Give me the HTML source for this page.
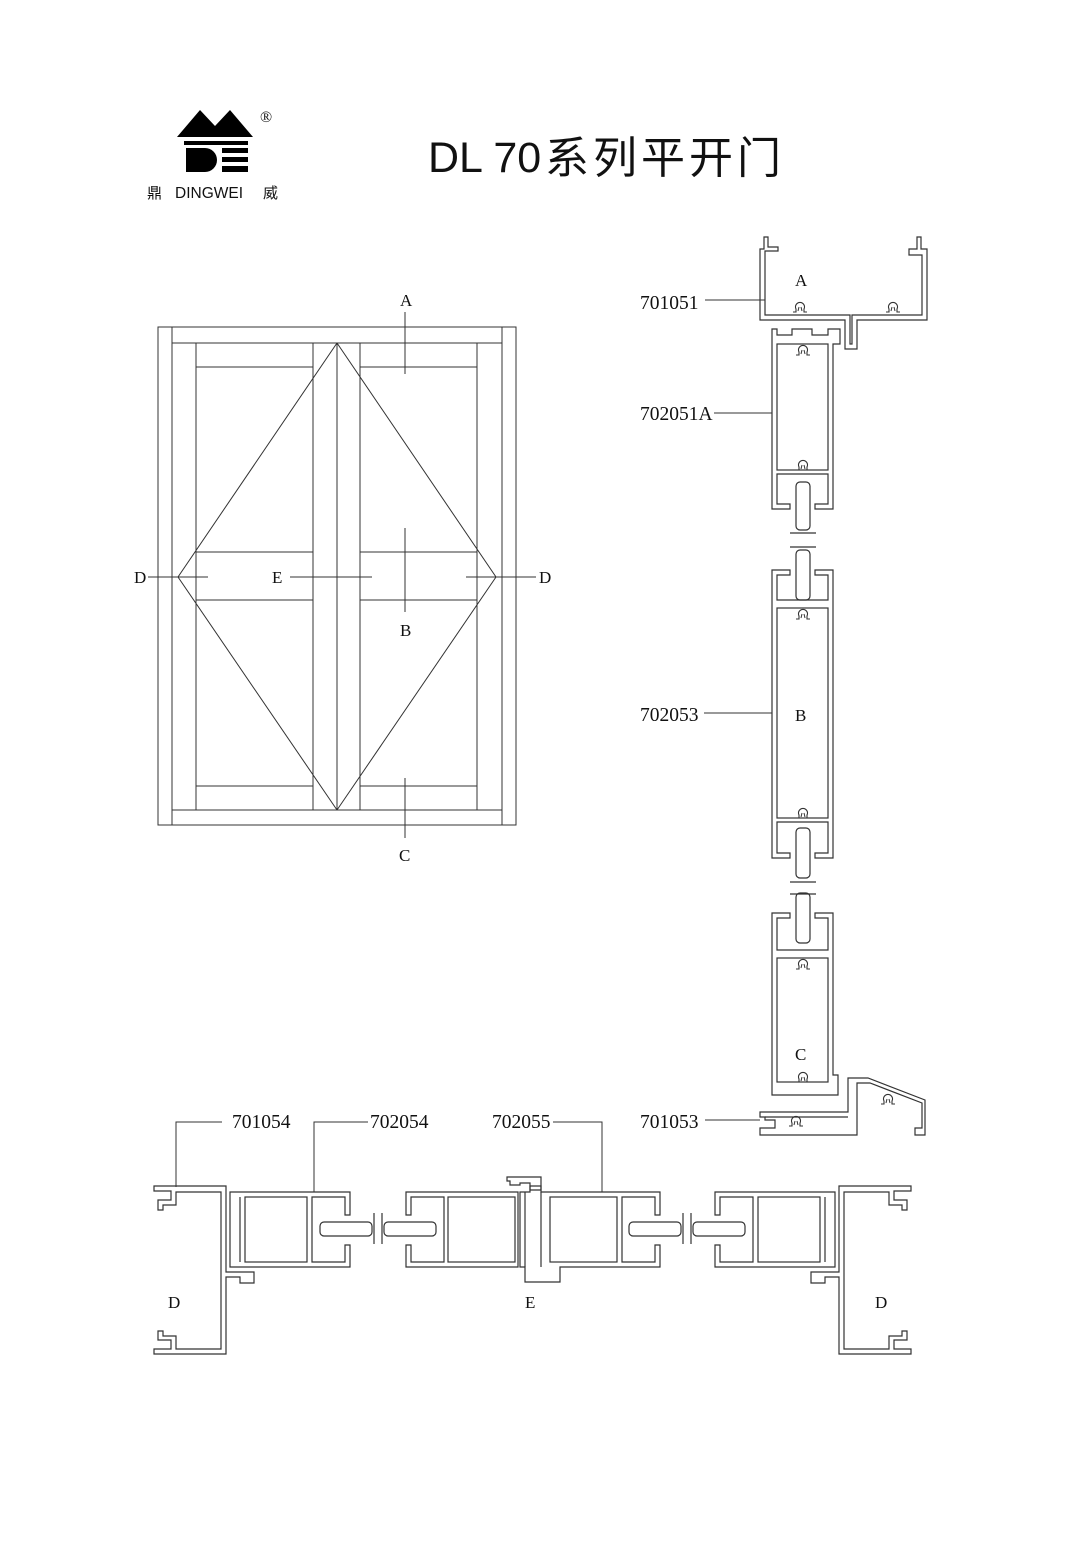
<!DOCTYPE html>
<html><head><meta charset="utf-8"><style>
html,body{margin:0;padding:0;background:#fff;}
svg{display:block;}
text{font-family:"Liberation Serif","Noto Serif CJK SC",serif;font-size:17px;fill:#111;}
.n{font-size:19.5px;}
.s{fill:none;stroke:#333;stroke-width:1.2;}
.t{fill:none;stroke:#333;stroke-width:1;}
</style></head><body>
<svg width="1090" height="1542" viewBox="0 0 1090 1542" xmlns="http://www.w3.org/2000/svg">
<defs>
<symbol id="clip" viewBox="-8 -8 16 16" width="16" height="16" overflow="visible">
<path d="M-7,4 H-4 V1 A4.5,4.5 0 1 1 4,1 V4 H7" fill="none" stroke="#333" stroke-width="1.1"/>
<path d="M-1,-1 L-2,3 M1,-1 L2,3" fill="none" stroke="#333" stroke-width="1"/>
</symbol>
</defs>
<polygon points="177,137 200,110 215,126 230,110 253,137" fill="#000"/>
<rect x="184" y="141" width="64" height="4" fill="#000"/>
<path d="M186,148 H205 A12,12 0 0 1 205,172 H186 Z" fill="#000"/>
<rect x="222" y="148" width="26" height="5" fill="#000"/>
<rect x="222" y="157" width="26" height="5" fill="#000"/>
<rect x="222" y="166" width="26" height="6" fill="#000"/>
<text x="260" y="122" style="font-size:16px">®</text>
<text x="147" y="198" style="font-family:'Liberation Sans','Noto Sans CJK SC',sans-serif;font-size:15px">鼎</text>
<text x="175" y="198" style="font-family:'Liberation Sans',sans-serif;font-size:15.5px">DINGWEI</text>
<text x="263" y="198" style="font-family:'Liberation Sans','Noto Sans CJK SC',sans-serif;font-size:15px">威</text>
<text x="428" y="172" style="font-family:'Liberation Sans',sans-serif;font-size:43px">DL 70</text>
<text x="545" y="173" style="font-family:'Liberation Sans','Noto Sans CJK SC',sans-serif;font-size:44px;letter-spacing:4px">系列平开门</text>

<g class="t">
<rect x="158" y="327" width="358" height="498"/>
<line x1="172" y1="327" x2="172" y2="825"/><line x1="502" y1="327" x2="502" y2="825"/>
<line x1="172" y1="343" x2="502" y2="343"/><line x1="172" y1="810" x2="502" y2="810"/>
<line x1="196" y1="343" x2="196" y2="810"/><line x1="313" y1="343" x2="313" y2="810"/>
<line x1="337" y1="343" x2="337" y2="810"/><line x1="360" y1="343" x2="360" y2="810"/>
<line x1="477" y1="343" x2="477" y2="810"/>
<line x1="196" y1="367" x2="313" y2="367"/><line x1="360" y1="367" x2="477" y2="367"/>
<line x1="196" y1="786" x2="313" y2="786"/><line x1="360" y1="786" x2="477" y2="786"/>
<line x1="196" y1="552" x2="313" y2="552"/><line x1="360" y1="552" x2="477" y2="552"/>
<line x1="196" y1="600" x2="313" y2="600"/><line x1="360" y1="600" x2="477" y2="600"/>
<polyline points="337,343 178,577 337,810"/><polyline points="337,343 496,577 337,810"/>
<line x1="405" y1="312" x2="405" y2="374"/>
<line x1="405" y1="528" x2="405" y2="612"/>
<line x1="405" y1="778" x2="405" y2="838"/>
<line x1="148" y1="577" x2="208" y2="577"/>
<line x1="290" y1="577" x2="372" y2="577"/>
<line x1="466" y1="577" x2="536" y2="577"/>
</g>
<text x="400" y="306">A</text><text x="400" y="636">B</text><text x="399" y="861">C</text>
<text x="134" y="583">D</text><text x="272" y="583">E</text><text x="539" y="583">D</text>

<g class="s">
<path d="M764,237 H768 V247 H778 V251 H765 V315 H850 V344 H852 V315 H922 V255 H909 V249 H917 V237 H921 V249 H927 V320 H857 V349 H845 V320 H760 V249 H764 Z"/>
<path d="M772,329 H777 V335 H792 V329 H812 V335 H828 V329 H840 V344 H833 V509 H815 V504 H828 V474 H777 V504 H790 V509 H772 Z"/>
<rect x="777" y="344" width="51" height="126"/>
<rect x="796" y="482" width="14" height="48" rx="4"/>
<line x1="790" y1="533" x2="816" y2="533"/><line x1="790" y1="547" x2="816" y2="547"/>
<path d="M772,570 H790 V575 H777 V600 H828 V575 H815 V570 H833 V858 H815 V853 H828 V822 H777 V853 H790 V858 H772 Z"/>
<rect x="777" y="608" width="51" height="210"/>
<rect x="796" y="550" width="14" height="50" rx="4"/>
<rect x="796" y="828" width="14" height="50" rx="4"/>
<line x1="790" y1="882" x2="816" y2="882"/><line x1="790" y1="894" x2="816" y2="894"/>
<path d="M772,913 H790 V918 H777 V950 H828 V918 H815 V913 H833 V1075 H838 V1095 H772 Z"/>
<rect x="777" y="958" width="51" height="124"/>
<rect x="796" y="893" width="14" height="50" rx="4"/>
<path d="M760,1112 H848 V1078 H868 L925,1100 V1135 H915 V1128 H922 V1103 L870,1083 H857 V1135 H760 V1128 H775 V1120 H765 V1117 H760 Z"/>
<path d="M765,1117 H848"/>
</g>
<use href="#clip" x="792" y="300"/><use href="#clip" x="885" y="300"/>
<use href="#clip" x="795" y="343"/><use href="#clip" x="795" y="458"/>
<use href="#clip" x="795" y="607"/><use href="#clip" x="795" y="806"/>
<use href="#clip" x="795" y="957"/><use href="#clip" x="795" y="1070"/>
<use href="#clip" x="880" y="1092"/><use href="#clip" x="788" y="1114"/>
<g class="t">
<line x1="705" y1="300" x2="765" y2="300"/>
<line x1="714" y1="413" x2="772" y2="413"/>
<line x1="704" y1="713" x2="772" y2="713"/>
<line x1="705" y1="1120" x2="760" y2="1120"/>
</g>
<text class="n" x="640" y="309">701051</text><text class="n" x="640" y="420">702051A</text>
<text class="n" x="640" y="721">702053</text><text class="n" x="640" y="1128">701053</text>
<text x="795" y="286">A</text><text x="795" y="721">B</text><text x="795" y="1060">C</text>

<g id="half" class="s">
<path d="M154,1186 H226 V1272 H254 V1283 H240 V1277 H226 V1354 H154 V1349 H171 V1340 H158 V1331 H163 V1336 H176 V1349 H221 V1192 H176 V1205 H163 V1210 H158 V1200 H171 V1191 H154 Z"/>
<path d="M230,1192 H350 V1215 H345 V1197 H312 V1262 H345 V1245 H350 V1267 H230 Z"/>
<line x1="240" y1="1197" x2="240" y2="1262"/>
<rect x="245" y="1197" width="62" height="65"/>
<rect x="320" y="1222" width="52" height="14" rx="4"/>
<line x1="374" y1="1213" x2="374" y2="1244"/>
</g>
<use href="#half" transform="translate(1065,0) scale(-1,1)"/>
<g class="s">
<path d="M406,1192 H518 V1267 H406 V1245 H411 V1262 H444 V1197 H411 V1215 H406 Z"/>
<rect x="448" y="1197" width="67" height="65"/>
<rect x="384" y="1222" width="52" height="14" rx="4"/>
<line x1="382" y1="1213" x2="382" y2="1244"/>
<path d="M520,1192 H530 V1186 H541 V1192 H660 V1215 H655 V1197 H622 V1262 H655 V1245 H660 V1267 H560 V1282 H525 V1267 H520 Z"/>
<path d="M507,1177 H541 V1190 H530 V1183 H520 V1185 H510 V1181 H507 Z"/>
<rect x="550" y="1197" width="67" height="65"/>
<line x1="525" y1="1192" x2="525" y2="1267"/><line x1="541" y1="1192" x2="541" y2="1267"/>
<rect x="629" y="1222" width="52" height="14" rx="4"/>
<line x1="683" y1="1213" x2="683" y2="1244"/>
</g>
<g class="t">
<polyline points="222,1122 176,1122 176,1187"/>
<polyline points="368,1122 314,1122 314,1192"/>
<polyline points="553,1122 602,1122 602,1192"/>
</g>
<text class="n" x="232" y="1128">701054</text><text class="n" x="370" y="1128">702054</text><text class="n" x="492" y="1128">702055</text>
<text x="168" y="1308">D</text><text x="525" y="1308">E</text><text x="875" y="1308">D</text>
</svg>
</body></html>
